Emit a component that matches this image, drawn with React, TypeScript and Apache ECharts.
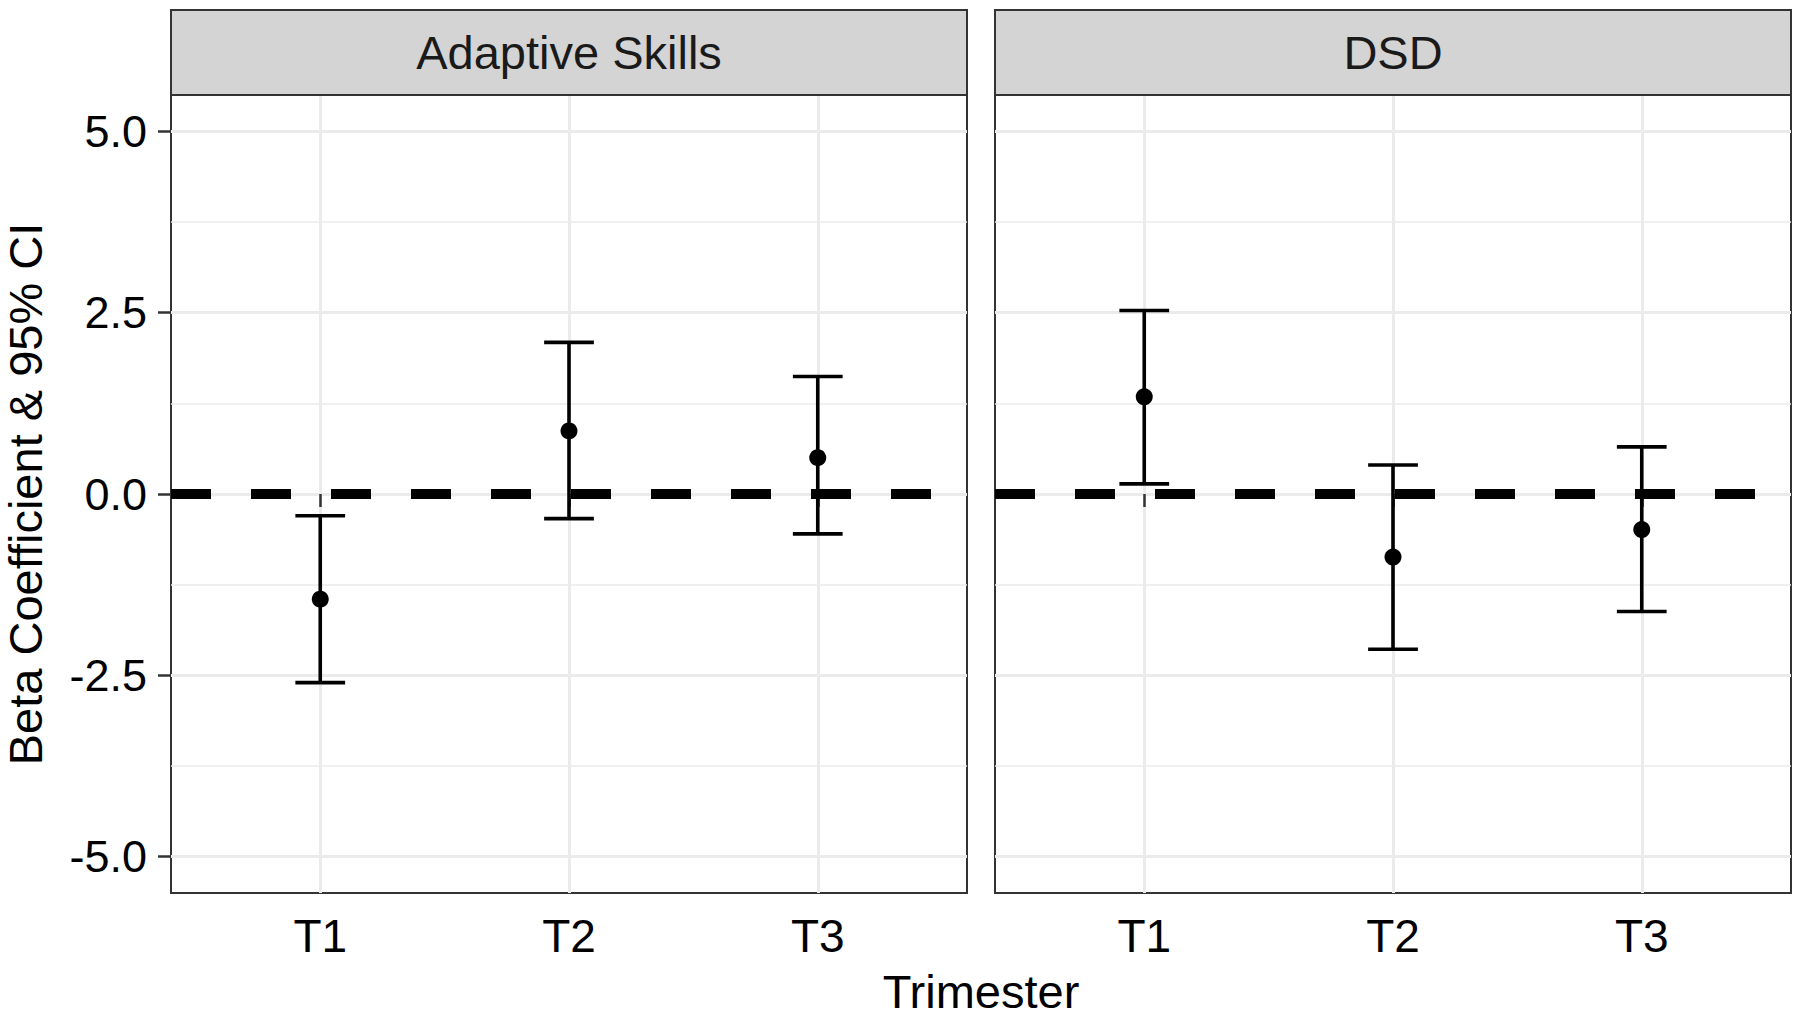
import React, { useEffect, useRef } from "react";
import * as echarts from "echarts";

// ---- data ----
const trimesters = ["T1", "T2", "T3"];
const panels = ["Adaptive Skills", "DSD"];
const adaptiveBeta = [-1.45, 0.87, 0.5];
const adaptiveLower = [-2.6, -0.34, -0.55];
const adaptiveUpper = [-0.3, 2.09, 1.62];
const dsdBeta = [1.34, -0.87, -0.49];
const dsdLower = [0.14, -2.14, -1.62];
const dsdUpper = [2.53, 0.4, 0.65];
const yMajorTicks = [-5, -2.5, 0, 2.5, 5];
const yMinorTicks = [-3.75, -1.25, 1.25, 3.75];
const xTickPositions = [1, 2, 3];
const yLimits = [-5.5, 5.5];
const xLimits = [0.4, 3.6];
const referenceLine = 0;
const xTitle = "Trimester";
const yTitle = "Beta Coefficient & 95% CI";

const FONT = "'Liberation Sans', Arial, Helvetica, sans-serif";
const GRID_LEFT = [171, 995];
const GRID_TOP = 95;
const GRID_W = 796;
const GRID_H = 798;
const STRIP_TOP = 10;
const CAP_HALF = 0.1;

export default function App() {
  const ref = useRef<HTMLDivElement>(null);

  useEffect(() => {
    if (!ref.current) return;
    const chart = echarts.init(ref.current, undefined, { renderer: "svg" });

    const betas = [adaptiveBeta, dsdBeta];
    const lowers = [adaptiveLower, dsdLower];
    const uppers = [adaptiveUpper, dsdUpper];

    const grids = GRID_LEFT.map((left) => ({
      left,
      top: GRID_TOP,
      width: GRID_W,
      height: GRID_H,
      show: true,
      backgroundColor: "#ffffff",
      borderColor: "#333333",
      borderWidth: 2,
      containLabel: false,
    }));

    const xAxes = GRID_LEFT.map((_, i) => ({
      type: "value",
      gridIndex: i,
      min: xLimits[0],
      max: xLimits[1],
      axisLine: { show: false },
      axisTick: {
        show: true,
        customValues: xTickPositions,
        length: 13,
        lineStyle: { color: "#333333", width: 2.5 },
      },
      axisLabel: {
        show: true,
        customValues: xTickPositions,
        formatter: (v: number) => trimesters[Math.round(v) - 1] ?? "",
        fontFamily: FONT,
        fontSize: 46,
        color: "#000000",
        margin: 20,
      },
      splitLine: { show: true, lineStyle: { color: "#EBEBEB", width: 3 } },
    }));

    const yMajor = GRID_LEFT.map((_, i) => ({
      type: "value",
      gridIndex: i,
      min: yLimits[0],
      max: yLimits[1],
      axisLine: { show: false },
      axisTick: {
        show: i === 0,
        customValues: yMajorTicks,
        length: 13,
        lineStyle: { color: "#333333", width: 2.5 },
      },
      axisLabel: {
        show: i === 0,
        customValues: yMajorTicks,
        formatter: (v: number) => v.toFixed(1),
        fontFamily: FONT,
        fontSize: 45,
        color: "#000000",
        margin: 24,
      },
      splitLine: { show: true, lineStyle: { color: "#EBEBEB", width: 3 } },
    }));

    const yMinor = GRID_LEFT.map((_, i) => ({
      type: "value",
      gridIndex: i,
      min: yLimits[0],
      max: yLimits[1],
      axisLine: { show: false },
      axisTick: { show: false, customValues: yMinorTicks },
      axisLabel: { show: false, customValues: yMinorTicks },
      splitLine: { show: true, lineStyle: { color: "#EBEBEB", width: 1.5 } },
    }));

    const series: any[] = [];
    panels.forEach((_, i) => {
      const errData = trimesters.map((_, k) => [xTickPositions[k], lowers[i][k], uppers[i][k]]);
      const ptData = trimesters.map((_, k) => [xTickPositions[k], betas[i][k]]);
      series.push({
        type: "custom",
        xAxisIndex: i,
        yAxisIndex: i,
        silent: true,
        z: 3,
        encode: { x: 0, y: [1, 2] },
        data: errData,
        renderItem: (params: any, api: any) => {
          const x = api.value(0);
          const lo = api.value(1);
          const hi = api.value(2);
          const pTop = api.coord([x, hi]);
          const pBot = api.coord([x, lo]);
          const capL = api.coord([x - CAP_HALF, hi])[0];
          const capR = api.coord([x + CAP_HALF, hi])[0];
          const style = { stroke: "#000000", lineWidth: 3.6, fill: "none" };
          return {
            type: "group",
            children: [
              { type: "line", shape: { x1: pTop[0], y1: pTop[1], x2: pBot[0], y2: pBot[1] }, style },
              { type: "line", shape: { x1: capL, y1: pTop[1], x2: capR, y2: pTop[1] }, style },
              { type: "line", shape: { x1: capL, y1: pBot[1], x2: capR, y2: pBot[1] }, style },
            ],
          };
        },
      });
      series.push({
        type: "scatter",
        xAxisIndex: i,
        yAxisIndex: i,
        silent: true,
        z: 4,
        symbol: "circle",
        symbolSize: 17,
        itemStyle: { color: "#000000", opacity: 1 },
        data: ptData,
        markLine: {
          silent: true,
          symbol: "none",
          label: { show: false },
          lineStyle: { color: "#000000", width: 10, type: [40, 40], cap: "butt", opacity: 1 },
          emphasis: { disabled: true },
          data: [{ yAxis: referenceLine }],
        },
      });
    });

    const graphics: any[] = [];
    panels.forEach((name, i) => {
      graphics.push({
        type: "rect",
        shape: { x: GRID_LEFT[i], y: STRIP_TOP, width: GRID_W, height: GRID_TOP - STRIP_TOP },
        style: { fill: "#D4D4D4", stroke: "#333333", lineWidth: 2 },
        z: 10,
      });
      graphics.push({
        type: "text",
        x: GRID_LEFT[i] + GRID_W / 2,
        y: (STRIP_TOP + GRID_TOP) / 2,
        style: {
          text: name,
          fontFamily: FONT,
          fontSize: 47,
          fill: "#1A1A1A",
          align: "center",
          verticalAlign: "middle",
        },
        z: 11,
      });
    });
    graphics.push({
      type: "text",
      x: (GRID_LEFT[0] + GRID_LEFT[1] + GRID_W) / 2,
      y: 1015,
      style: {
        text: xTitle,
        fontFamily: FONT,
        fontSize: 47,
        fill: "#000000",
        align: "center",
        verticalAlign: "bottom",
      },
    });
    graphics.push({
      type: "text",
      x: 25,
      y: GRID_TOP + GRID_H / 2,
      rotation: Math.PI / 2,
      style: {
        text: yTitle,
        fontFamily: FONT,
        fontSize: 47,
        fill: "#000000",
        align: "center",
        verticalAlign: "middle",
      },
    });

    chart.setOption({
      animation: false,
      backgroundColor: "#ffffff",
      grid: grids,
      xAxis: xAxes,
      yAxis: [...yMajor, ...yMinor],
      series,
      graphic: graphics,
    });

    return () => chart.dispose();
  }, []);

  return (
    <div
      ref={ref}
      style={{ position: "fixed", left: 0, top: 0, width: 1800, height: 1017, background: "#fff" }}
    />
  );
}
